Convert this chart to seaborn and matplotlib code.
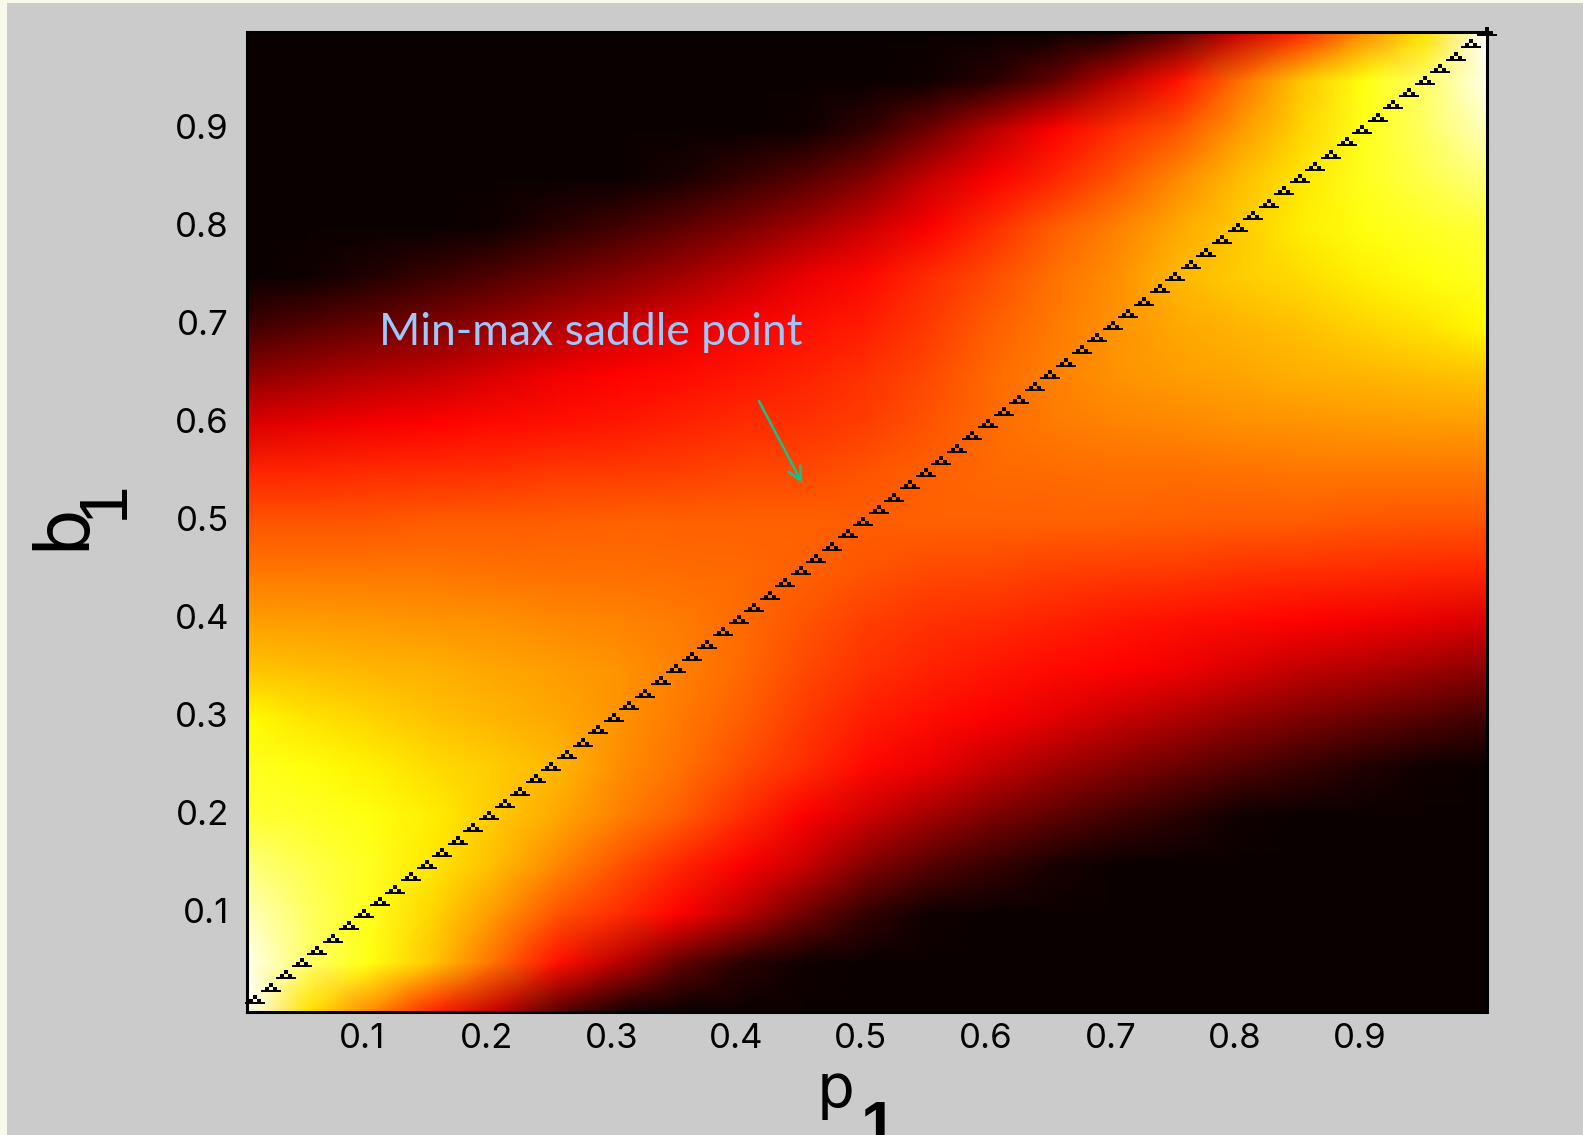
import matplotlib
matplotlib.use("Agg")
import matplotlib.pyplot as plt
from matplotlib.path import Path
from matplotlib.patches import Rectangle
import pandas as pd
import seaborn as sns

# grid of the colour surface
p_grid = [0.006, 0.056, 0.106, 0.155, 0.205, 0.255, 0.304, 0.354, 0.404, 0.453, 0.503,
          0.553, 0.602, 0.652, 0.702, 0.751, 0.801, 0.851, 0.900, 0.950, 1.0]
b_grid = [1.0, 0.95, 0.90, 0.85, 0.80, 0.75, 0.70, 0.65, 0.60, 0.55, 0.50,
          0.45, 0.40, 0.35, 0.30, 0.25, 0.20, 0.15, 0.10, 0.05, 0.0]

heat_values = [
    [0, 0, 0, 0, 0, 0, 0, 0, 0, 0, 0, 0, 0, 0, .02, .12, .28, .42, .57, .70, 1.0],
    [0, 0, 0, 0, 0, 0, 0, 0, 0, 0, 0, .01, .05, .13, .26, .39, .53, .66, .76, .85, .98],
    [0, 0, 0, 0, 0, 0, 0, 0, 0, .01, .06, .15, .26, .36, .43, .49, .59, .68, .77, .84, .93],
    [0, 0, 0, 0, 0, 0, 0, .025, .067, .117, .18, .285, .36, .42, .49, .57, .645, .71, .775, .82, .87],
    [0, 0, 0, 0, .01, .047, .085, .126, .173, .228, .29, .36, .43, .50, .555, .615, .665, .72, .76, .785, .80],
    [0, .01, .039, .074, .109, .147, .184, .227, .279, .338, .375, .43, .48, .535, .575, .64, .67, .695, .725, .755, .78],
    [.08, .113, .144, .174, .209, .247, .282, .328, .36, .385, .41, .45, .505, .545, .585, .615, .635, .655, .68, .705, .74],
    [.195, .223, .25, .275, .31, .347, .37, .38, .395, .415, .44, .475, .52, .555, .585, .60, .61, .625, .635, .645, .66],
    [.31, .333, .354, .37, .38, .39, .40, .415, .43, .44, .46, .49, .525, .55, .56, .57, .58, .585, .59, .595, .60],
    [.42, .425, .43, .435, .44, .45, .455, .46, .47, .475, .49, .51, .52, .525, .53, .53, .535, .54, .54, .54, .54],
    [.49, .49, .495, .50, .50, .505, .51, .51, .51, .51, .505, .51, .51, .51, .51, .505, .50, .50, .495, .49, .49],
    [.54, .54, .54, .54, .535, .53, .53, .525, .52, .51, .49, .475, .47, .46, .455, .45, .44, .435, .43, .425, .42],
    [.60, .595, .59, .585, .58, .57, .56, .55, .525, .49, .46, .44, .43, .415, .40, .39, .38, .37, .354, .333, .31],
    [.66, .645, .635, .625, .61, .60, .585, .555, .52, .475, .44, .415, .395, .38, .37, .347, .31, .275, .25, .223, .195],
    [.74, .705, .68, .655, .635, .615, .585, .545, .505, .45, .41, .385, .36, .328, .282, .247, .209, .174, .144, .113, .08],
    [.78, .755, .725, .695, .67, .64, .575, .535, .48, .43, .375, .338, .279, .227, .184, .147, .109, .074, .039, .01, 0],
    [.80, .785, .76, .72, .665, .615, .555, .50, .43, .36, .29, .228, .173, .126, .085, .047, .01, 0, 0, 0, 0],
    [.87, .82, .775, .71, .645, .57, .49, .42, .36, .285, .18, .117, .067, .025, 0, 0, 0, 0, 0, 0, 0],
    [.93, .84, .77, .68, .59, .49, .43, .36, .26, .15, .06, .01, 0, 0, 0, 0, 0, 0, 0, 0, 0],
    [.98, .85, .76, .66, .53, .39, .26, .13, .05, .01, 0, 0, 0, 0, 0, 0, 0, 0, 0, 0, 0],
    [1.0, .70, .57, .42, .28, .12, .02, 0, 0, 0, 0, 0, 0, 0, 0, 0, 0, 0, 0, 0, 0],
]

# the triangles along p1 = b1
p_markers = [0.0125, 0.025, 0.0375, 0.05, 0.0625, 0.075, 0.0875, 0.1, 0.1125, 0.125,
             0.1375, 0.15, 0.1625, 0.175, 0.1875, 0.2, 0.2125, 0.225, 0.2375, 0.25,
             0.2625, 0.275, 0.2875, 0.3, 0.3125, 0.325, 0.3375, 0.35, 0.3625, 0.375,
             0.3875, 0.4, 0.4125, 0.425, 0.4375, 0.45, 0.4625, 0.475, 0.4875, 0.5,
             0.5125, 0.525, 0.5375, 0.55, 0.5625, 0.575, 0.5875, 0.6, 0.6125, 0.625,
             0.6375, 0.65, 0.6625, 0.675, 0.6875, 0.7, 0.7125, 0.725, 0.7375, 0.75,
             0.7625, 0.775, 0.7875, 0.8, 0.8125, 0.825, 0.8375, 0.85, 0.8625, 0.875,
             0.8875, 0.9, 0.9125, 0.925, 0.9375, 0.95, 0.9625, 0.975, 0.9875, 1.0]
b_markers = list(p_markers)

tick_values = [0.1, 0.2, 0.3, 0.4, 0.5, 0.6, 0.7, 0.8, 0.9]
tick_labels = ["0.1", "0.2", "0.3", "0.4", "0.5", "0.6", "0.7", "0.8", "0.9"]

W, H = 1583, 1135
AX_LEFT, AX_RIGHT, AX_TOP, AX_BOTTOM = 247, 1487, 32, 1012
GRAY = "#cbcbcb"


def x_index(v):
    return (v - p_grid[0]) / (p_grid[-1] - p_grid[0]) * (len(p_grid) - 1)


def y_index(v):
    return (b_grid[0] - v) / (b_grid[0] - b_grid[-1]) * (len(b_grid) - 1)


def ax_x(px):
    return (px - AX_LEFT) / (AX_RIGHT - AX_LEFT)


def ax_y(px):
    return (AX_BOTTOM - px) / (AX_BOTTOM - AX_TOP)


sns.set_theme(style="white")

fig = plt.figure(figsize=(W / 100, H / 100), dpi=100, facecolor=GRAY)
fig.patches.append(Rectangle((0, 0), 7 / W, 1, transform=fig.transFigure, color="#f8f9ea", lw=0))
fig.patches.append(Rectangle((0, 1 - 3 / H), 1, 3 / H, transform=fig.transFigure, color="#f8f9ea", lw=0))

ax = fig.add_axes([AX_LEFT / W, 1 - AX_BOTTOM / H, (AX_RIGHT - AX_LEFT) / W, (AX_BOTTOM - AX_TOP) / H])

heat = pd.DataFrame(heat_values, index=b_grid, columns=p_grid)
sns.heatmap(heat, ax=ax, cmap="hot", vmin=0, vmax=1, cbar=False, shading="gouraud")
ax.set_xlim(0, len(p_grid) - 1)
ax.set_ylim(len(b_grid) - 1, 0)

# hat shaped marker: wide foot, hollow middle, small block on top
hat = Path(
    [(-9, -4), (9, -4), (9, -2), (5.5, -2), (5.5, 1), (2, 1), (2, 4.5), (-2, 4.5), (-2, 1), (-5.5, 1),
     (-5.5, -2), (-9, -2), (-9, -4),
     (-1.7, -2), (-1.7, 1), (1.7, 1), (1.7, -2), (-1.7, -2)],
    [Path.MOVETO] + [Path.LINETO] * 11 + [Path.CLOSEPOLY] + [Path.MOVETO] + [Path.LINETO] * 3 + [Path.CLOSEPOLY],
)
marks = pd.DataFrame({"p": [x_index(v) for v in p_markers], "b": [y_index(v) for v in b_markers]})
sns.scatterplot(data=marks, x="p", y="b", ax=ax, marker=hat, s=190, color="black",
                linewidth=0, clip_on=False, legend=False, zorder=5)

ax.set_xlabel("")
ax.set_ylabel("")
ax.set_xticks([x_index(v - 0.002) for v in tick_values])
ax.set_xticklabels(tick_labels, rotation=0, family="Inter")
ax.set_yticks([y_index(v) for v in tick_values])
ax.set_yticklabels(tick_labels, rotation=0, family="Inter")
ax.tick_params(axis="both", length=0, labelsize=25, labelcolor="black")
ax.tick_params(axis="x", pad=8)
ax.tick_params(axis="y", pad=13)

for side in ax.spines:
    ax.spines[side].set_visible(True)
    ax.spines[side].set_color("black")
    ax.spines[side].set_linewidth(2.2)

# axis names are drawn by hand, the subscript runs off the bottom like the original
fig.text(836 / W, 1 - 1107 / H, "p", fontsize=43, ha="center", va="baseline", color="black")
fig.text(879 / W, 1 - 1147 / H, "1", fontsize=46, family="Liberation Sans", weight="bold",
         ha="center", va="baseline", color="black")
fig.text(83 / W, 1 - 526 / H, "b", fontsize=54, rotation=90, rotation_mode="anchor",
         ha="center", va="baseline", color="black")
fig.text(123 / W, 1 - 500 / H, "1", fontsize=50, family="Liberation Sans", rotation=90,
         rotation_mode="anchor", ha="center", va="baseline", color="black")

ax.text(ax_x(379), ax_y(345), "Min-max saddle point", transform=ax.transAxes, family="Lato",
        fontsize=32, color="#9cc8fb", ha="left", va="baseline")
ax.annotate("", xy=(ax_x(802), ax_y(483)), xytext=(ax_x(759), ax_y(401)),
            xycoords="axes fraction", textcoords="axes fraction",
            arrowprops=dict(arrowstyle="->", color="#10c48c", lw=1.8, mutation_scale=24,
                            shrinkA=0, shrinkB=0))

plt.savefig("out.png", dpi=100, facecolor=fig.get_facecolor())
